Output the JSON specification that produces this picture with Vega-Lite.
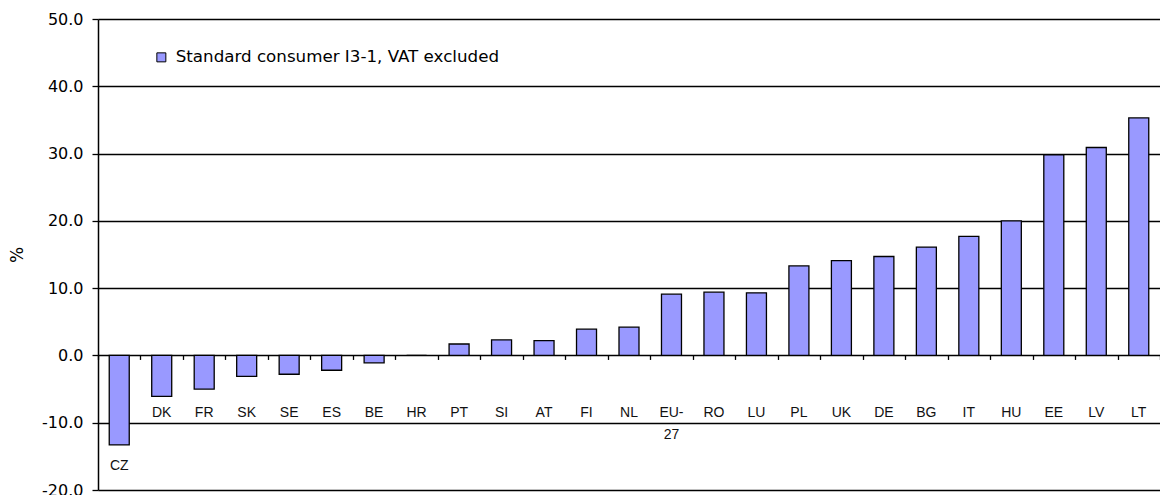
{
  "$schema": "https://vega.github.io/schema/vega-lite/v6.json",
  "width": 1062,
  "height": 471,
  "autosize": {"type": "none"},
  "padding": {"left": 98, "top": 19, "right": 0, "bottom": 5},
  "background": "white",
  "config": {"view": {"stroke": null}, "font": "Liberation Sans"},
  "data": {
    "values": [
      {"country": "CZ", "label": "CZ", "value": -13.3, "series": "Standard consumer I3-1, VAT excluded"},
      {"country": "DK", "label": "DK", "value": -6.1, "series": "Standard consumer I3-1, VAT excluded"},
      {"country": "FR", "label": "FR", "value": -5.0, "series": "Standard consumer I3-1, VAT excluded"},
      {"country": "SK", "label": "SK", "value": -3.1, "series": "Standard consumer I3-1, VAT excluded"},
      {"country": "SE", "label": "SE", "value": -2.8, "series": "Standard consumer I3-1, VAT excluded"},
      {"country": "ES", "label": "ES", "value": -2.2, "series": "Standard consumer I3-1, VAT excluded"},
      {"country": "BE", "label": "BE", "value": -1.1, "series": "Standard consumer I3-1, VAT excluded"},
      {"country": "HR", "label": "HR", "value": 0.0, "series": "Standard consumer I3-1, VAT excluded"},
      {"country": "PT", "label": "PT", "value": 1.7, "series": "Standard consumer I3-1, VAT excluded"},
      {"country": "SI", "label": "SI", "value": 2.3, "series": "Standard consumer I3-1, VAT excluded"},
      {"country": "AT", "label": "AT", "value": 2.2, "series": "Standard consumer I3-1, VAT excluded"},
      {"country": "FI", "label": "FI", "value": 3.9, "series": "Standard consumer I3-1, VAT excluded"},
      {"country": "NL", "label": "NL", "value": 4.2, "series": "Standard consumer I3-1, VAT excluded"},
      {"country": "EU-27", "label": "EU-\n27", "value": 9.1, "series": "Standard consumer I3-1, VAT excluded"},
      {"country": "RO", "label": "RO", "value": 9.4, "series": "Standard consumer I3-1, VAT excluded"},
      {"country": "LU", "label": "LU", "value": 9.3, "series": "Standard consumer I3-1, VAT excluded"},
      {"country": "PL", "label": "PL", "value": 13.3, "series": "Standard consumer I3-1, VAT excluded"},
      {"country": "UK", "label": "UK", "value": 14.1, "series": "Standard consumer I3-1, VAT excluded"},
      {"country": "DE", "label": "DE", "value": 14.7, "series": "Standard consumer I3-1, VAT excluded"},
      {"country": "BG", "label": "BG", "value": 16.1, "series": "Standard consumer I3-1, VAT excluded"},
      {"country": "IT", "label": "IT", "value": 17.7, "series": "Standard consumer I3-1, VAT excluded"},
      {"country": "HU", "label": "HU", "value": 20.0, "series": "Standard consumer I3-1, VAT excluded"},
      {"country": "EE", "label": "EE", "value": 29.8, "series": "Standard consumer I3-1, VAT excluded"},
      {"country": "LV", "label": "LV", "value": 30.9, "series": "Standard consumer I3-1, VAT excluded"},
      {"country": "LT", "label": "LT", "value": 35.3, "series": "Standard consumer I3-1, VAT excluded"}
    ]
  },
  "encoding": {
    "x": {
      "field": "country",
      "type": "nominal",
      "sort": null,
      "scale": {"paddingInner": 0, "paddingOuter": 0},
      "axis": {
        "orient": "bottom",
        "offset": -134.57,
        "labels": false,
        "title": null,
        "domain": false,
        "grid": false,
        "ticks": true,
        "tickBand": "extent",
        "tickSize": 4,
        "tickColor": "black",
        "tickWidth": 1.3
      }
    }
  },
  "layer": [
    {
      "mark": {"type": "bar", "width": 20, "stroke": "black", "strokeWidth": 1.3},
      "encoding": {
        "y": {
          "field": "value",
          "type": "quantitative",
          "scale": {"domain": [-20, 50], "nice": false, "zero": false},
          "axis": {
            "values": [-20, -10, 0, 10, 20, 30, 40, 50],
            "labelExpr": "datum.value < 0 ? '-' + format(-datum.value, '.1f') : format(datum.value, '.1f')",
            "grid": true,
            "gridColor": "black",
            "gridWidth": 1.3,
            "gridOpacity": 1,
            "domain": true,
            "domainColor": "black",
            "domainWidth": 1.5,
            "ticks": true,
            "tickSize": 6,
            "tickColor": "black",
            "tickWidth": 1.3,
            "labelFont": "DejaVu Sans",
            "labelFontSize": 16,
            "labelColor": "#000",
            "labelPadding": 9,
            "title": "%",
            "titleFont": "DejaVu Sans",
            "titleFontSize": 17,
            "titleFontWeight": "normal",
            "titleColor": "#000",
            "titlePadding": 15
          }
        },
        "color": {
          "field": "series",
          "type": "nominal",
          "scale": {"range": ["#9999FF"]},
          "legend": {
            "title": null,
            "orient": "none",
            "legendX": 55,
            "legendY": 30,
            "symbolType": "square",
            "symbolSize": 81,
            "symbolStrokeColor": "black",
            "symbolStrokeWidth": 1,
            "symbolFillColor": "#9999FF",
            "labelFont": "DejaVu Sans",
            "labelFontSize": 16.7,
            "labelColor": "#000",
            "labelOffset": 6,
            "labelLimit": 0
          }
        }
      }
    },
    {
      "transform": [{"filter": "datum.country != 'CZ'"}],
      "mark": {"type": "text", "fontSize": 14, "color": "#111", "baseline": "alphabetic", "lineBreak": "\n", "lineHeight": 22},
      "encoding": {
        "y": {"datum": -9.15},
        "text": {"field": "label"}
      }
    },
    {
      "transform": [{"filter": "datum.country == 'CZ'"}],
      "mark": {"type": "text", "fontSize": 14, "color": "#111", "baseline": "alphabetic"},
      "encoding": {
        "y": {"datum": -17.0},
        "text": {"field": "label"}
      }
    }
  ]
}
